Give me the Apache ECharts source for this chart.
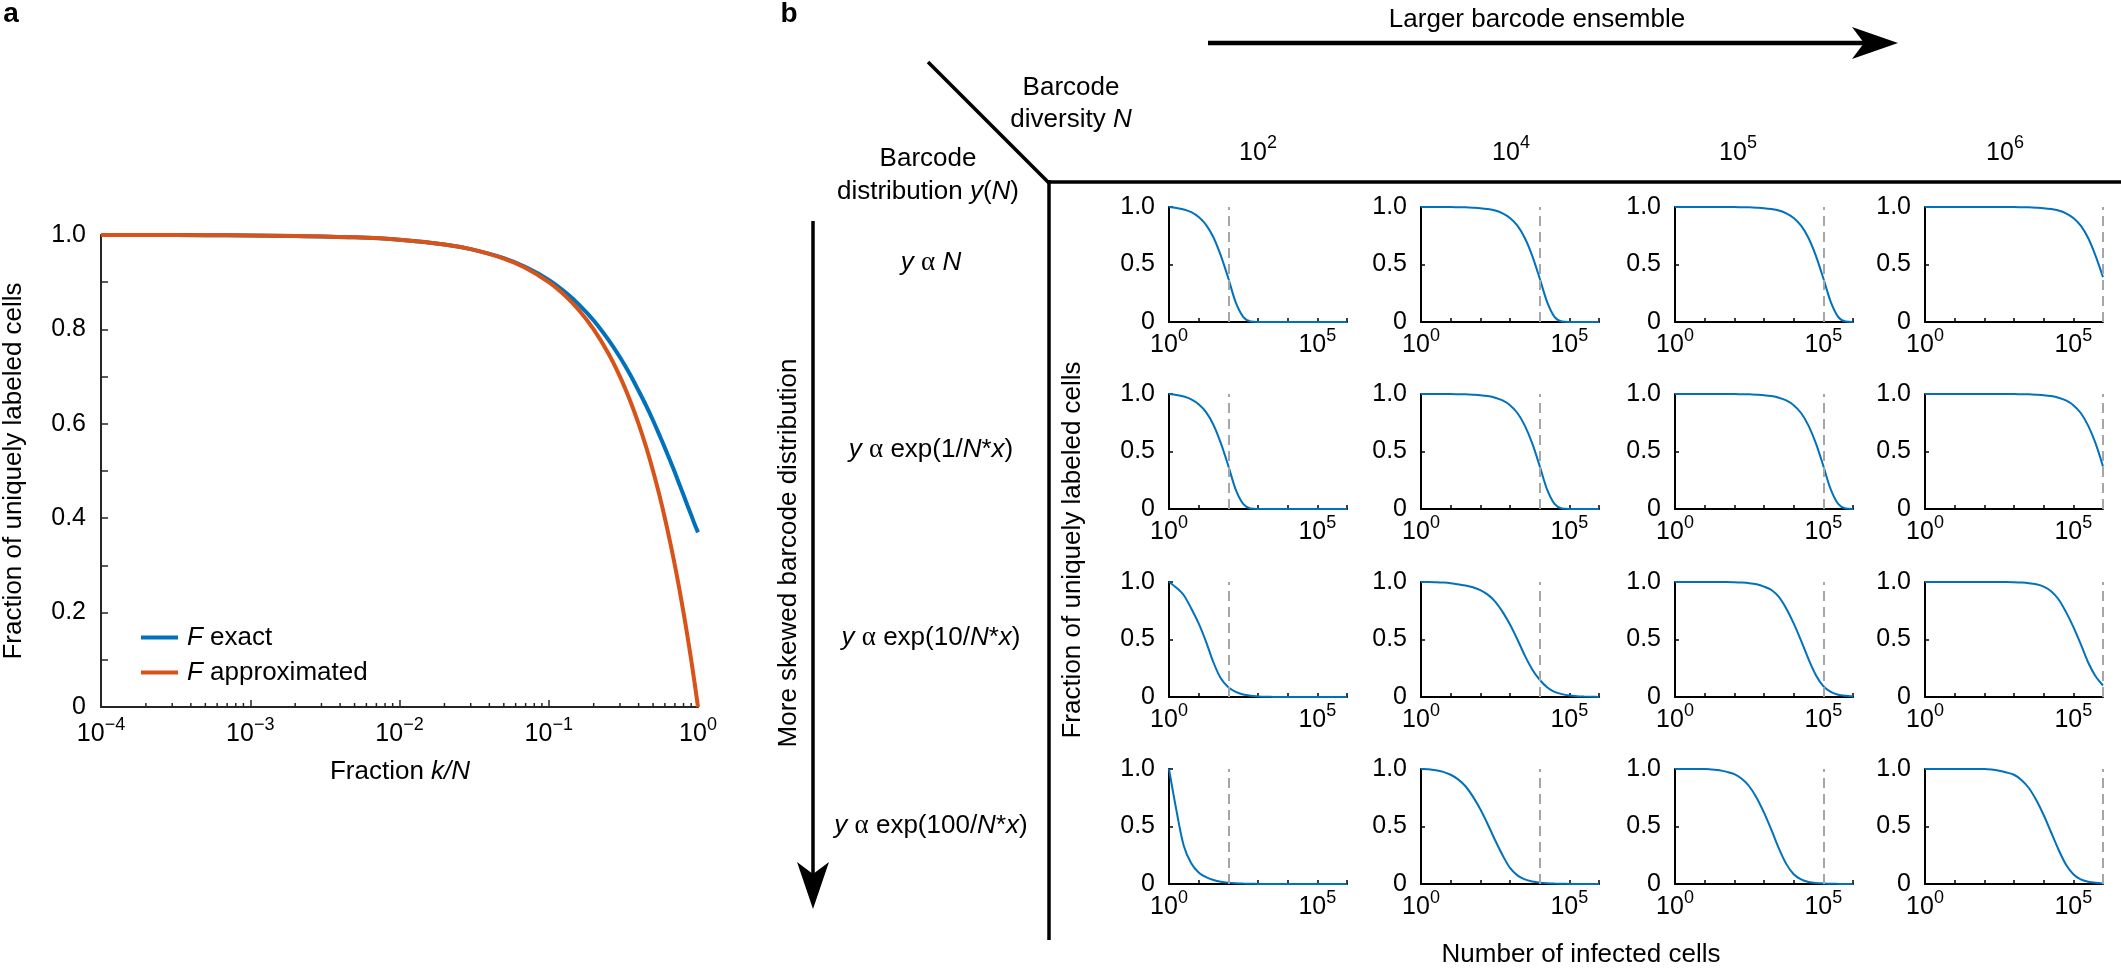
<!DOCTYPE html>
<html>
<head>
<meta charset="utf-8">
<script src="https://cdn.jsdelivr.net/npm/echarts@6/dist/echarts.min.js"></script>
<style>
html,body{margin:0;padding:0;background:#ffffff;}
#chart{width:2121px;height:969px;}
</style>
</head>
<body>
<div id="chart"></div>
<script>
// ---------------- DATA ----------------
// Panel a: fraction k/N and fraction of uniquely labeled cells
const fracKN = [0.0001, 0.0002, 0.0005, 0.001, 0.002, 0.005, 0.01, 0.02, 0.03, 0.05, 0.07, 0.1, 0.13, 0.16, 0.2, 0.25, 0.3, 0.35, 0.4, 0.45, 0.5, 0.55, 0.6, 0.65, 0.7, 0.75, 0.8, 0.85, 0.9, 0.95, 1.0];
const fExact  = [1.000, 1.000, 0.9995, 0.999, 0.998, 0.995, 0.990, 0.980, 0.970, 0.951, 0.932, 0.905, 0.878, 0.852, 0.819, 0.779, 0.741, 0.705, 0.670, 0.638, 0.607, 0.577, 0.549, 0.522, 0.497, 0.472, 0.449, 0.427, 0.407, 0.387, 0.370];
const fApprox = [1.000, 1.000, 0.9995, 0.999, 0.998, 0.995, 0.990, 0.980, 0.970, 0.950, 0.930, 0.900, 0.870, 0.840, 0.800, 0.750, 0.700, 0.650, 0.600, 0.550, 0.500, 0.450, 0.400, 0.350, 0.300, 0.250, 0.200, 0.150, 0.100, 0.050, 0.000];
const fracTickExps = [-4, -3, -2, -1, 0];
const seriesNamesA = ['F exact', 'F approximated'];

// Panel b: log10(number of infected cells)
const logK = [0, 0.25, 0.5, 0.75, 1, 1.25, 1.5, 1.75, 2, 2.25, 2.5, 2.75, 3, 3.25, 3.5, 3.75, 4, 4.25, 4.5, 4.75, 5, 5.25, 5.5, 5.75, 6];
const diversityExps = [2, 4, 5, 6];           // barcode diversity N = 10^exp (dashed line)
const xLabelExps = [0, 5];                     // labelled ticks of the small panels

// Row 1: y ∝ N
const yN_1e2 = [1.0, 0.992, 0.978, 0.955, 0.913, 0.845, 0.735, 0.575, 0.38, 0.17, 0.045, 0.004, 0, 0, 0, 0, 0, 0, 0, 0, 0, 0, 0, 0, 0];
const yN_1e4 = [1, 1, 1, 0.999, 0.999, 0.998, 0.997, 0.994, 0.99, 0.982, 0.969, 0.945, 0.905, 0.838, 0.73, 0.575, 0.38, 0.175, 0.045, 0.004, 0, 0, 0, 0, 0];
const yN_1e5 = [1, 1, 1, 1, 1, 1, 1, 0.999, 0.999, 0.998, 0.997, 0.994, 0.99, 0.982, 0.969, 0.945, 0.905, 0.838, 0.73, 0.575, 0.38, 0.175, 0.045, 0.004, 0];
const yN_1e6 = [1, 1, 1, 1, 1, 1, 1, 1, 1, 1, 1, 0.999, 0.999, 0.998, 0.997, 0.994, 0.99, 0.982, 0.969, 0.945, 0.905, 0.838, 0.73, 0.575, 0.39];
// Row 2: y ∝ exp(1/N*x)
const exp1_1e2 = [1.0, 0.992, 0.978, 0.954, 0.911, 0.842, 0.73, 0.57, 0.375, 0.168, 0.044, 0.004, 0, 0, 0, 0, 0, 0, 0, 0, 0, 0, 0, 0, 0];
const exp1_1e4 = [1, 1, 1, 0.999, 0.999, 0.998, 0.997, 0.994, 0.99, 0.982, 0.968, 0.944, 0.903, 0.835, 0.725, 0.57, 0.375, 0.17, 0.044, 0.004, 0, 0, 0, 0, 0];
const exp1_1e5 = [1, 1, 1, 1, 1, 1, 1, 0.999, 0.999, 0.998, 0.997, 0.994, 0.99, 0.982, 0.968, 0.944, 0.903, 0.835, 0.725, 0.57, 0.375, 0.17, 0.044, 0.004, 0];
const exp1_1e6 = [1, 1, 1, 1, 1, 1, 1, 1, 1, 1, 1, 0.999, 0.999, 0.998, 0.997, 0.994, 0.99, 0.982, 0.968, 0.944, 0.903, 0.835, 0.725, 0.57, 0.37];
// Row 3: y ∝ exp(10/N*x)
const exp10_1e2 = [1.0, 0.95, 0.885, 0.77, 0.64, 0.48, 0.3, 0.16, 0.085, 0.045, 0.022, 0.011, 0.005, 0.002, 0.001, 0, 0, 0, 0, 0, 0, 0, 0, 0, 0];
const exp10_1e4 = [1, 1, 0.998, 0.995, 0.99, 0.98, 0.97, 0.955, 0.93, 0.89, 0.83, 0.74, 0.63, 0.5, 0.36, 0.24, 0.15, 0.085, 0.045, 0.025, 0.013, 0.007, 0.004, 0.002, 0.001];
const exp10_1e5 = [1, 1, 1, 1, 1, 1, 1, 1, 0.998, 0.995, 0.99, 0.98, 0.96, 0.93, 0.87, 0.77, 0.64, 0.49, 0.33, 0.19, 0.095, 0.045, 0.02, 0.01, 0.005];
const exp10_1e6 = [1, 1, 1, 1, 1, 1, 1, 1, 1, 1, 1, 1, 0.998, 0.995, 0.99, 0.98, 0.96, 0.92, 0.85, 0.74, 0.61, 0.46, 0.3, 0.18, 0.1];
// Row 4: y ∝ exp(100/N*x)
const exp100_1e2 = [1.0, 0.64, 0.33, 0.18, 0.10, 0.06, 0.035, 0.02, 0.012, 0.007, 0.004, 0.002, 0.001, 0, 0, 0, 0, 0, 0, 0, 0, 0, 0, 0, 0];
const exp100_1e4 = [1.0, 0.998, 0.99, 0.975, 0.95, 0.91, 0.85, 0.76, 0.65, 0.52, 0.38, 0.25, 0.14, 0.075, 0.04, 0.022, 0.012, 0.007, 0.004, 0.002, 0.001, 0, 0, 0, 0];
const exp100_1e5 = [1, 1, 1, 1, 1, 0.995, 0.99, 0.975, 0.955, 0.915, 0.85, 0.75, 0.62, 0.47, 0.31, 0.175, 0.085, 0.04, 0.018, 0.009, 0.005, 0.002, 0.001, 0, 0];
const exp100_1e6 = [1, 1, 1, 1, 1, 1, 1, 1, 1, 0.995, 0.985, 0.97, 0.95, 0.905, 0.835, 0.73, 0.6, 0.45, 0.3, 0.17, 0.085, 0.04, 0.02, 0.01, 0.005];

const cellCurves = [
  [yN_1e2, yN_1e4, yN_1e5, yN_1e6],
  [exp1_1e2, exp1_1e4, exp1_1e5, exp1_1e6],
  [exp10_1e2, exp10_1e4, exp10_1e5, exp10_1e6],
  [exp100_1e2, exp100_1e4, exp100_1e5, exp100_1e6]
];

// ---------------- STYLE / LAYOUT ----------------
const FONT = '"Liberation Sans", Arial, Helvetica, sans-serif';
const SERIF = '"Liberation Serif", "DejaVu Serif", serif';
const BLUE = '#0072BD';
const ORANGE = '#D95319';
const AX_A = '#262626';
const LBL = 26;   // label text size
const TCK = 25;   // tick label size
const SUP = 18;   // superscript size

function supRich(size, supSize) {
  return {
    b: { fontSize: size, fontFamily: FONT, color: '#000', fill: '#000', lineHeight: size + 12 },
    s: { fontSize: supSize, fontFamily: FONT, color: '#000', fill: '#000', lineHeight: supSize + 1, verticalAlign: 'top' }
  };
}
function supText(base, exp) { return '{b|' + base + '}{s|' + exp + '}'; }
function expStr(e) { return e < 0 ? '\u2212' + (-e) : String(e); }

const chart = echarts.init(document.getElementById('chart'));

const grids = [], xAxes = [], yAxes = [], series = [];

// ---- Panel a ----
grids.push({ left: 101, top: 235, width: 597, height: 472 });
xAxes.push({
  gridIndex: 0, type: 'value', min: -4, max: 0, interval: 1,
  axisLine: { onZero: false, lineStyle: { color: AX_A, width: 2 } },
  axisTick: { inside: true, length: 7, lineStyle: { color: AX_A, width: 1.5 } },
  splitLine: { show: false },
  axisLabel: {
    margin: 9,
    formatter: function (v) { return fracTickExps.indexOf(v) >= 0 ? supText('10', expStr(v)) : ''; },
    rich: supRich(TCK, SUP)
  }
});
yAxes.push({
  gridIndex: 0, type: 'value', min: 0, max: 1, interval: 0.2,
  axisLine: { show: true, onZero: false, lineStyle: { color: AX_A, width: 2 } },
  axisTick: { show: true, inside: true, length: 7, lineStyle: { color: AX_A, width: 1.5 } },
  minorTick: { show: true, splitNumber: 2, length: 7, lineStyle: { color: AX_A, width: 1.5 } },
  splitLine: { show: false },
  axisLabel: { margin: 15, fontSize: TCK, fontFamily: FONT, color: '#000',
    formatter: function (v) { return v === 0 ? '0' : v.toFixed(1); } }
});
series.push({
  name: seriesNamesA[0], type: 'line', xAxisIndex: 0, yAxisIndex: 0,
  data: fracKN.map(function (f, i) { return [Math.log10(f), fExact[i]]; }),
  showSymbol: false, smooth: 0.3, clip: false,
  lineStyle: { color: BLUE, width: 4 }, itemStyle: { color: BLUE }, z: 2
});
series.push({
  name: seriesNamesA[1], type: 'line', xAxisIndex: 0, yAxisIndex: 0,
  data: fracKN.map(function (f, i) { return [Math.log10(f), fApprox[i]]; }),
  showSymbol: false, smooth: 0.3, clip: false,
  lineStyle: { color: ORANGE, width: 4 }, itemStyle: { color: ORANGE }, z: 3
});
// logarithmic minor ticks of panel a (2..9 in each decade)
const minorFracTicks = [];
for (let e = -4; e < 0; e++) { for (let m = 2; m <= 9; m++) { minorFracTicks.push(e + Math.log10(m)); } }
series.push({
  type: 'custom', xAxisIndex: 0, yAxisIndex: 0, silent: true, clip: false, z: 4,
  data: minorFracTicks.map(function (v) { return [v, 0]; }),
  renderItem: function (params, api) {
    const p = api.coord([api.value(0), 0]);
    return { type: 'line', shape: { x1: p[0], y1: p[1], x2: p[0], y2: p[1] - 4 },
      style: { stroke: AX_A, lineWidth: 1.5 } };
  }
});

// ---- Panel b: 4 x 4 small panels ----
const colLeft = [1169, 1421, 1675, 1925];
const rowTop = [207, 394, 582, 769];
const cellW = 178, cellH = 115;
for (let r = 0; r < 4; r++) {
  for (let c = 0; c < 4; c++) {
    const gi = grids.length;
    grids.push({ left: colLeft[c], top: rowTop[r], width: cellW, height: cellH });
    xAxes.push({
      gridIndex: gi, type: 'value', min: 0, max: 6, interval: 1,
      axisLine: { onZero: false, lineStyle: { color: '#000', width: 2 } },
      axisTick: { inside: true, length: 4, lineStyle: { color: '#000', width: 1.5 } },
      splitLine: { show: false },
      axisLabel: {
        margin: 5, showMaxLabel: true,
        formatter: function (v) { return xLabelExps.indexOf(v) >= 0 ? supText('10', String(v)) : ''; },
        rich: supRich(TCK, SUP)
      }
    });
    yAxes.push({
      gridIndex: gi, type: 'value', min: 0, max: 1, interval: 0.5,
      axisLine: { show: true, onZero: false, lineStyle: { color: '#000', width: 2 } },
      axisTick: { show: true, inside: true, length: 4, lineStyle: { color: '#000', width: 1.5 } },
      splitLine: { show: false },
      axisLabel: { margin: 14, fontSize: TCK, fontFamily: FONT, color: '#000',
        formatter: function (v) { return v === 0 ? '0' : v.toFixed(1); } }
    });
    const vals = cellCurves[r][c];
    series.push({
      type: 'line', xAxisIndex: gi, yAxisIndex: gi,
      data: logK.map(function (l, i) { return [l, vals[i]]; }),
      showSymbol: false, smooth: 0.3, clip: false,
      lineStyle: { color: BLUE, width: 2 }, itemStyle: { color: BLUE },
      markLine: {
        silent: true, symbol: 'none', animation: false,
        label: { show: false },
        lineStyle: { type: [10, 6], color: '#a6a6a6', width: 2 },
        data: [{ xAxis: diversityExps[c] }]
      }
    });
  }
}

// ---------------- annotations ----------------
function txt(x, y, text, size, extra) {
  return { type: 'text', x: x, y: y, silent: true,
    style: Object.assign({ text: text, fontSize: size, fontFamily: FONT, fill: '#000',
      align: 'center', verticalAlign: 'middle' }, extra || {}) };
}
const ital = function (size) { return { fontSize: size, fontFamily: FONT, fontStyle: 'italic', fill: '#000' }; };
const reg = function (size) { return { fontSize: size, fontFamily: FONT, fill: '#000' }; };
const greek = function (size) { return { fontSize: size, fontFamily: SERIF, fill: '#000' }; };
const mixRich = { i: ital(LBL), r: reg(LBL), g: greek(LBL + 1) };

const headerExps = [2, 4, 5, 6];
const headerX = [1258, 1511, 1738, 2005];
const rowLabels = [
  '{i|y} {g|\u03b1} {i|N}',
  '{i|y} {g|\u03b1} {r|exp(1/}{i|N}{r|*}{i|x}{r|)}',
  '{i|y} {g|\u03b1} {r|exp(10/}{i|N}{r|*}{i|x}{r|)}',
  '{i|y} {g|\u03b1} {r|exp(100/}{i|N}{r|*}{i|x}{r|)}'
];
const rowLabelY = [263, 450, 638, 826];

const elements = [
  txt(11, 14, 'a', 28, { fontWeight: 'bold' }),
  txt(789, 14, 'b', 28, { fontWeight: 'bold' }),
  // panel a axis names
  Object.assign(txt(14, 471, 'Fraction of uniquely labeled cells', LBL), { rotation: Math.PI / 2 }),
  txt(400, 772, '{r|Fraction }{i|k/N}', LBL, { rich: mixRich }),
  // panel b header
  txt(1537, 20, 'Larger barcode ensemble', LBL),
  { type: 'line', silent: true, shape: { x1: 1208, y1: 43, x2: 1870, y2: 43 }, style: { stroke: '#000', lineWidth: 4.5 } },
  { type: 'polygon', silent: true, shape: { points: [[1898, 43], [1852, 27], [1864, 43], [1852, 59]] }, style: { fill: '#000' } },
  { type: 'line', silent: true, shape: { x1: 928, y1: 62, x2: 1049, y2: 183 }, style: { stroke: '#000', lineWidth: 3.5 } },
  { type: 'line', silent: true, shape: { x1: 1047, y1: 182, x2: 2121, y2: 182 }, style: { stroke: '#000', lineWidth: 3.5 } },
  { type: 'line', silent: true, shape: { x1: 1049, y1: 180, x2: 1049, y2: 940 }, style: { stroke: '#000', lineWidth: 3.5 } },
  txt(1071, 88, 'Barcode', LBL),
  txt(1071, 120, '{r|diversity }{i|N}', LBL, { rich: mixRich }),
  txt(928, 159, 'Barcode', LBL),
  txt(928, 192, '{r|distribution }{i|y}{r|(}{i|N}{r|)}', LBL, { rich: mixRich }),
  // left arrow
  { type: 'line', silent: true, shape: { x1: 813, y1: 221, x2: 813, y2: 880 }, style: { stroke: '#000', lineWidth: 3.5 } },
  { type: 'polygon', silent: true, shape: { points: [[813, 909], [797, 862], [813, 874], [829, 862]] }, style: { fill: '#000' } },
  Object.assign(txt(789, 553, 'More skewed barcode distribution', LBL), { rotation: Math.PI / 2 }),
  Object.assign(txt(1073, 550, 'Fraction of uniquely labeled cells', LBL), { rotation: Math.PI / 2 }),
  txt(1581, 955, 'Number of infected cells', LBL)
];
for (let c = 0; c < 4; c++) {
  elements.push(txt(headerX[c], 153, supText('10', String(headerExps[c])), TCK, { rich: supRich(TCK, SUP) }));
}
for (let r = 0; r < 4; r++) {
  elements.push(txt(931, rowLabelY[r], rowLabels[r], LBL, { rich: mixRich }));
}

const option = {
  backgroundColor: '#ffffff',
  animation: false,
  textStyle: { fontFamily: FONT },
  grid: grids,
  xAxis: xAxes,
  yAxis: yAxes,
  series: series,
  legend: {
    data: seriesNamesA,
    orient: 'vertical', left: 136, top: 618,
    itemWidth: 37, itemHeight: 4, itemGap: 6, icon: 'rect',
    selectedMode: false,
    formatter: function (name) { return '{i|F}{r|' + name.slice(1) + '}'; },
    textStyle: { fontSize: LBL, fontFamily: FONT, color: '#000', lineHeight: 29, padding: [0, 0, 0, 4],
      rich: { i: { fontSize: LBL, fontFamily: FONT, fontStyle: 'italic', color: '#000' },
              r: { fontSize: LBL, fontFamily: FONT, color: '#000' } } }
  },
  graphic: { elements: elements }
};
chart.setOption(option);
</script>
</body>
</html>
